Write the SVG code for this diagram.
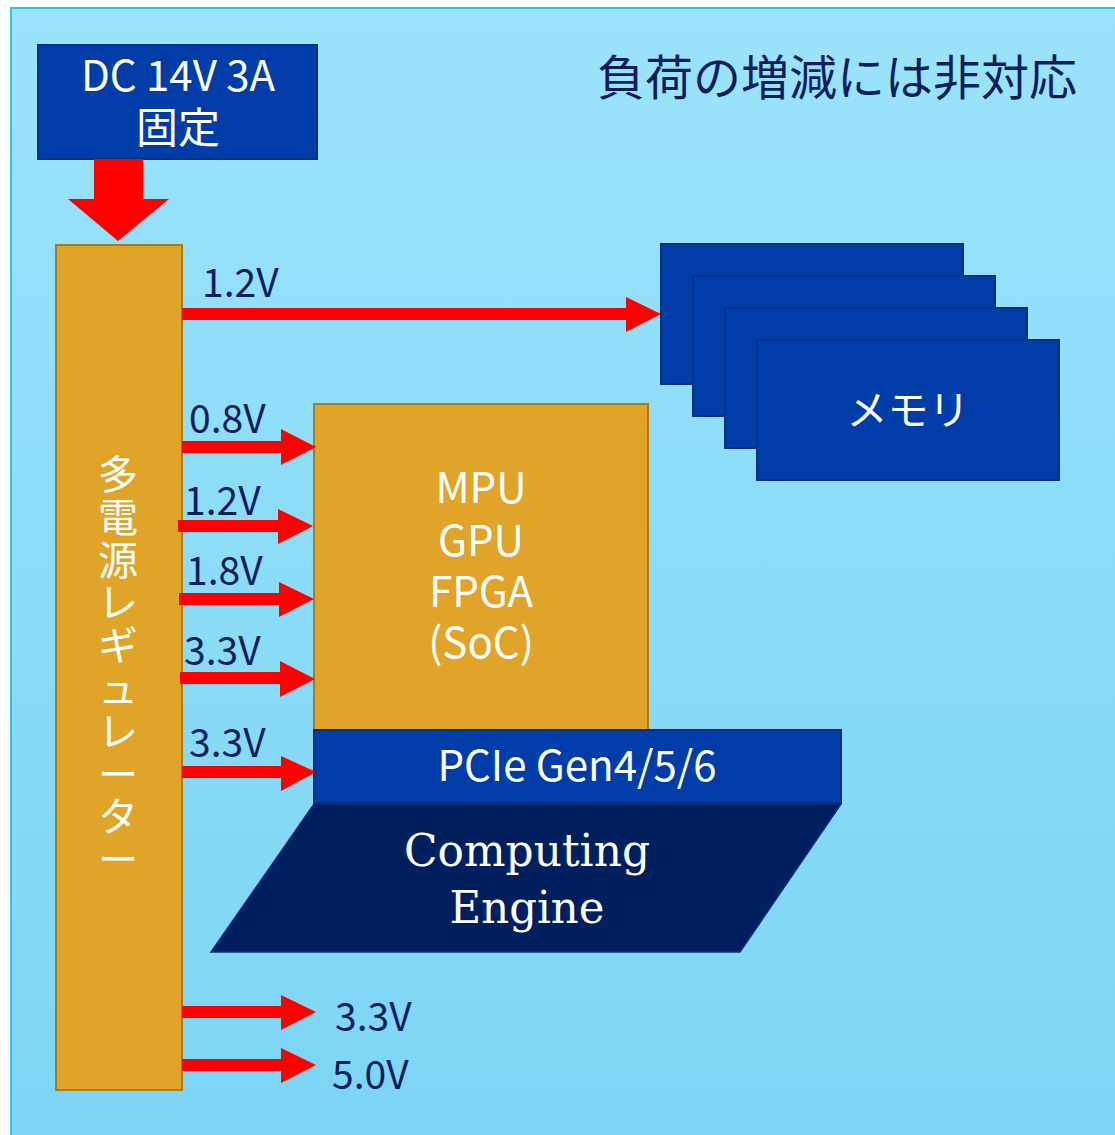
<svg xmlns="http://www.w3.org/2000/svg" width="1115" height="1135" viewBox="0 0 1115 1135">
<defs>
<linearGradient id="bg" x1="0" y1="0" x2="0" y2="1">
<stop offset="0" stop-color="#9be3fb"/>
<stop offset="1" stop-color="#7cd5f5"/>
</linearGradient>
<style>
.t{font-family:"Noto Sans CJK JP","Noto Sans",sans-serif;}
.w{fill:#ffffff;}
.lbl{fill:#0b1f5c;font-size:39px;}
.blue{fill:#003da8;stroke:#002f85;stroke-width:2;}
.gold{fill:#e0a428;stroke:#a87c1e;stroke-width:2;}
.arr{fill:#ff0000;}
.v{font-size:40px;}
</style>
</defs>
<rect x="0" y="0" width="1115" height="1135" fill="#ffffff"/>
<rect x="11" y="8" width="1110" height="1140" fill="url(#bg)" stroke="#2ec4e0" stroke-width="2"/>
<text class="t" x="1077" y="95" text-anchor="end" font-size="48" fill="#0b1f5c">負荷の増減には非対応</text>

<g id="dc">
<rect class="blue" x="38" y="45" width="279" height="114"/>
<text class="t w" x="178" y="91" text-anchor="middle" font-size="42">DC 14V 3A</text>
<text class="t w" x="178" y="143" text-anchor="middle" font-size="42">固定</text>
</g>

<g id="regulator">
<rect class="gold" x="56" y="245" width="126" height="845"/>
<text class="t w v" x="118" y="489" text-anchor="middle">多</text>
<text class="t w v" x="118" y="532" text-anchor="middle">電</text>
<text class="t w v" x="118" y="575" text-anchor="middle">源</text>
<text class="t w v" x="118" y="617" text-anchor="middle">レ</text>
<text class="t w v" x="118" y="660" text-anchor="middle">ギ</text>
<text class="t w v" x="118" y="703" text-anchor="middle">ュ</text>
<text class="t w v" x="118" y="746" text-anchor="middle">レ</text>
<text class="t w v" x="118" y="789" text-anchor="middle">ー</text>
<text class="t w v" x="118" y="831" text-anchor="middle">タ</text>
<text class="t w v" x="118" y="874" text-anchor="middle">ー</text>
</g>

<g id="memory">
<rect class="blue" x="661" y="244" width="302" height="140"/>
<rect class="blue" x="693" y="276" width="302" height="140"/>
<rect class="blue" x="725" y="308" width="302" height="140"/>
<rect class="blue" x="757" y="340" width="302" height="140"/>
<text class="t w" x="908" y="425" text-anchor="middle" font-size="41">メモリ</text>
</g>

<g id="mpu">
<rect class="gold" x="314" y="404" width="334" height="326"/>
<text class="t w" x="481" y="503" text-anchor="middle" font-size="42">MPU</text>
<text class="t w" x="481" y="556" text-anchor="middle" font-size="42">GPU</text>
<text class="t w" x="481" y="607" text-anchor="middle" font-size="42">FPGA</text>
<text class="t w" x="481" y="658" text-anchor="middle" font-size="42">(SoC)</text>
</g>

<g id="pcie">
<rect class="blue" x="314" y="730" width="527" height="73"/>
<text class="t w" x="577" y="781" text-anchor="middle" font-size="42">PCIe Gen4/5/6</text>
</g>

<g id="engine">
<polygon points="314,804 841,804 740,952 211,952" fill="#001f5f" stroke="#0a2f80" stroke-width="1.5"/>
<text x="527" y="866" text-anchor="middle" font-family="DejaVu Serif, serif" font-size="44" fill="#ffffff" textLength="246" lengthAdjust="spacingAndGlyphs">Computing</text>
<text x="527" y="923" text-anchor="middle" font-family="DejaVu Serif, serif" font-size="44" fill="#ffffff" textLength="155" lengthAdjust="spacingAndGlyphs">Engine</text>
</g>

<g id="connectors">
<polygon class="arr" points="94,159 143,159 143,199 169,199 118,241 68,199 94,199"/>
<polygon class="arr" points="182,308 626,308 626,297 661,314 626,332 626,320 182,320"/>
<polygon class="arr" points="182,441 281,441 281,429 316,447 281,465 281,453 182,453"/>
<polygon class="arr" points="178,520 278,520 278,509 313,526 278,544 278,532 178,532"/>
<polygon class="arr" points="179,593 279,593 279,582 314,599 279,617 279,605 179,605"/>
<polygon class="arr" points="180,672 280,672 280,661 315,679 280,697 280,684 180,684"/>
<polygon class="arr" points="182,766 281,766 281,756 316,772 281,791 281,778 182,778"/>
<polygon class="arr" points="182,1006 281,1006 281,995 316,1012 281,1030 281,1018 182,1018"/>
<polygon class="arr" points="182,1059 281,1059 281,1048 316,1065 281,1083 281,1071 182,1071"/>
</g>

<g id="labels">
<text class="t lbl" x="202" y="297">1.2V</text>
<text class="t lbl" x="189" y="433">0.8V</text>
<text class="t lbl" x="184" y="515">1.2V</text>
<text class="t lbl" x="186" y="585">1.8V</text>
<text class="t lbl" x="184" y="665">3.3V</text>
<text class="t lbl" x="189" y="757">3.3V</text>
<text class="t lbl" x="335" y="1031">3.3V</text>
<text class="t lbl" x="332" y="1089">5.0V</text>
</g>
</svg>
